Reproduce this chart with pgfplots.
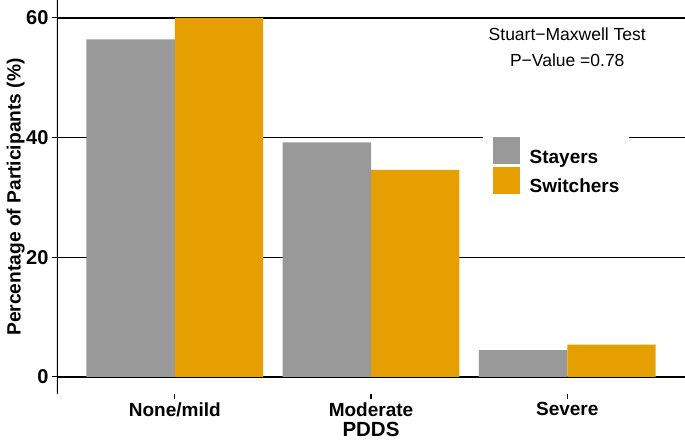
\documentclass[border=0pt]{standalone}
\usepackage{fontspec}
\setmainfont{Liberation Sans}
\usepackage{pgfplots}
\pgfplotsset{compat=1.18}
\definecolor{stay}{HTML}{999999}
\definecolor{swit}{HTML}{E69F00}
\newcommand{\fs}[1]{\fontsize{#1}{#1}\selectfont}
\begin{document}
\begin{tikzpicture}
\begin{axis}[
 at={(0,0)}, anchor=south west,
 scale only axis, width=628pt, height=394pt,
 xmin=0.4, xmax=3.6, ymin=-2.85, ymax=63,
 axis line style={draw=none},
 xtick={1,2,3}, xticklabels={None/mild,Moderate,Severe},
 ytick={0,20,40,60},
 tick align=outside, xtick pos=lower, ytick pos=left,
 major tick length=5pt,
 tick style={black, line width=1.1pt},
 ymajorgrids, grid style={black, line width=1.35pt},
 /pgf/number format/assume math mode=true,
 yticklabel style={font=\fs{20}\bfseries},
 xticklabel style={font=\fs{19}\bfseries},
 xlabel={PDDS},
 xlabel style={font=\fs{20.5}\bfseries, at={(axis description cs:0.5,-0.109)}, anchor=base},
 ylabel={Percentage of Participants (\%)},
 ylabel style={font=\fs{19.2}\bfseries, at={(axis description cs:-0.0578,0.5)}, anchor=base},
 legend cell align=left,
 legend style={at={(axis cs:2.571,41.45)}, anchor=north west, fill=white, draw=none,
   inner xsep=10pt, inner ysep=8pt, row sep=2pt, column sep=0pt,
   nodes={inner sep=0pt, font=\fs{19}\bfseries}},
]
\addplot[ybar, bar width=0.45, bar shift=0pt, fill=stay, draw=none, forget plot]
  coordinates {(0.775,56.4) (1.775,39.2) (2.775,4.5)};
\addplot[ybar, bar width=0.45, bar shift=0pt, fill=swit, draw=none, forget plot]
  coordinates {(1.225,60.0) (2.225,34.6) (3.225,5.4)};
\addlegendimage{legend image code/.code={\fill[stay] (0pt,-6.2pt) rectangle (26pt,19.8pt); \path (36pt,0pt);}}
\addlegendentry{Stayers}
\addlegendimage{legend image code/.code={\fill[swit] (0pt,-6.2pt) rectangle (26pt,19.8pt); \path (36pt,0pt);}}
\addlegendentry{Switchers}
\draw[black, line width=1.3pt] (rel axis cs:0,0) -- (rel axis cs:0,1);
\node[font=\fs{17.5}, anchor=base] at (axis cs:3,56.16) {Stuart−Maxwell Test};
\node[font=\fs{17.5}, anchor=base] at (axis cs:3,51.86) {P−Value =0.78};
\end{axis}
\pgfresetboundingbox
\path (-57pt,-48pt) rectangle (628pt,394pt);
\end{tikzpicture}
\end{document}
